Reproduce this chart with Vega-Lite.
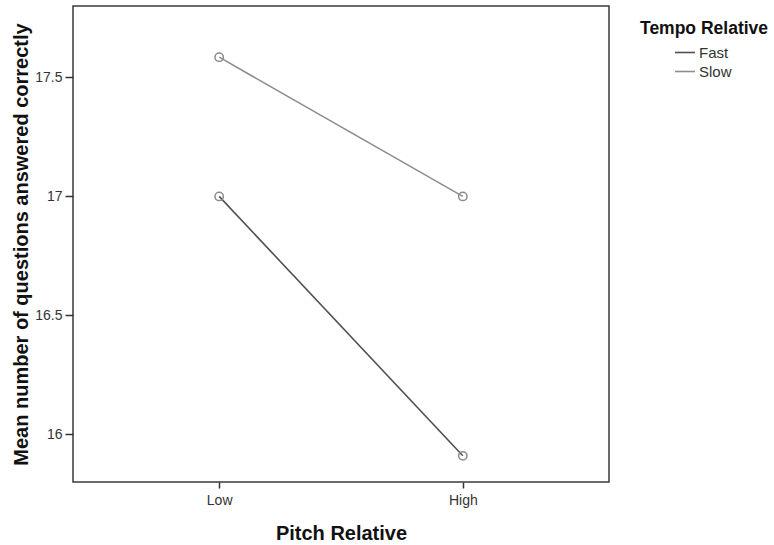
{
  "$schema": "https://vega.github.io/schema/vega-lite/v6.json",
  "width": 536,
  "height": 476,
  "autosize": {"type": "none"},
  "padding": {"left": 73, "top": 6, "right": 165, "bottom": 63},
  "background": "white",
  "config": {
    "font": "Liberation Sans",
    "view": {"stroke": "#3a3a3a", "strokeWidth": 1.5},
    "axis": {"grid": false, "domain": false, "tickColor": "#333", "tickWidth": 1.5, "labelColor": "#333", "labelFont": "Liberation Sans", "labelFontSize": 14, "titleFont": "Liberation Sans", "titleFontSize": 20, "titleFontWeight": "bold", "titleColor": "#111"}
  },
  "data": {
    "values": [
      {"pitch": "Low", "tempo": "Fast", "mean": 17.0},
      {"pitch": "High", "tempo": "Fast", "mean": 15.91},
      {"pitch": "Low", "tempo": "Slow", "mean": 17.585},
      {"pitch": "High", "tempo": "Slow", "mean": 17.0}
    ]
  },
  "encoding": {
    "x": {"field": "pitch", "type": "nominal", "sort": ["Low", "High"],
      "scale": {"type": "point", "padding": 0.6},
      "axis": {"title": "Pitch Relative", "labelAngle": 0, "tickSize": 6, "labelPadding": 5, "titleY": 57, "titleBaseline": "alphabetic"}},
    "y": {"field": "mean", "type": "quantitative",
      "scale": {"domain": [15.8, 17.8], "nice": false, "zero": false},
      "axis": {"title": "Mean number of questions answered correctly", "values": [16, 16.5, 17, 17.5], "format": "~g", "tickSize": 8, "labelPadding": 3, "titleX": -46, "titleY": 238, "titleAngle": -90, "titleAlign": "center", "titleBaseline": "alphabetic"}}
  },
  "layer": [
    {
      "mark": {"type": "line", "strokeWidth": 1.6},
      "encoding": {
        "color": {"field": "tempo", "type": "nominal",
          "scale": {"domain": ["Fast", "Slow"], "range": ["#505050", "#8e8e8e"]},
          "legend": {"title": "Tempo Relative", "orient": "none", "legendX": 567, "legendY": 14,
            "titleFontSize": 17.5, "titleFontWeight": "bold", "titleColor": "#111", "titleFont": "Liberation Sans",
            "labelFontSize": 15, "labelColor": "#333", "labelFont": "Liberation Sans",
            "symbolType": "stroke", "symbolSize": 400, "symbolStrokeWidth": 1.6, "symbolOffset": 34,
            "labelOffset": 3, "rowPadding": -1, "titlePadding": 4}}
      }
    },
    {
      "mark": {"type": "point", "shape": "circle", "filled": false, "size": 70, "strokeWidth": 1.5, "color": "#8a8a8a", "opacity": 1},
      "encoding": {"detail": {"field": "tempo"}}
    }
  ]
}
